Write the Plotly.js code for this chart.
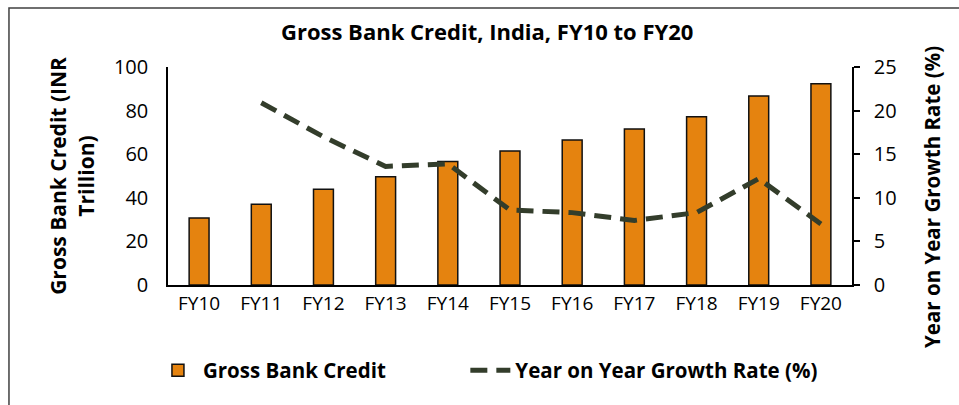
<!DOCTYPE html>
<html>
<head>
<meta charset="utf-8">
<script src="https://cdn.plot.ly/plotly-3.0.1.min.js"></script>
<style>html,body{margin:0;padding:0;background:#fff;}#chart{width:959px;height:405px;}</style>
</head>
<body>
<div id="chart"></div>
<script>
const categories = ["FY10","FY11","FY12","FY13","FY14","FY15","FY16","FY17","FY18","FY19","FY20"];
const grossBankCredit = [30.7, 37.0, 43.9, 49.7, 56.6, 61.5, 66.5, 71.6, 77.2, 86.7, 92.3];
const growthRate = [null, 20.9, 17.0, 13.6, 13.9, 8.6, 8.3, 7.4, 8.3, 12.2, 7.0];

const FONT = "Open Sans, Noto Sans, sans-serif";
const PAD = "\u00a0".repeat(14);

const traces = [
  {
    type: "bar",
    name: "Gross Bank Credit" + PAD,
    x: categories,
    y: grossBankCredit,
    width: 0.32,
    marker: {color: "#E5830F", line: {color: "#111111", width: 1.5}},
    yaxis: "y"
  },
  {
    type: "scatter",
    mode: "lines",
    name: "Year on Year Growth Rate (%)",
    x: categories,
    y: growthRate,
    line: {color: "#333D2B", width: 5, dash: "17px,9px"},
    yaxis: "y2",
    connectgaps: false
  }
];

const layout = {
  width: 959,
  height: 405,
  margin: {l: 168, r: 107, t: 67, b: 120},
  paper_bgcolor: "#ffffff",
  plot_bgcolor: "#ffffff",
  font: {family: FONT, color: "#000000", size: 19},
  title: {
    text: "<b>Gross Bank Credit, India, FY10 to FY20</b>",
    font: {family: FONT, size: 22, color: "#000000"},
    x: 0.508, xref: "container", xanchor: "center",
    y: 0.92, yref: "container", yanchor: "middle"
  },
  showlegend: true,
  legend: {
    orientation: "h",
    x: -0.022, xanchor: "left",
    y: -0.3, yanchor: "top",
    font: {family: FONT, size: 20.5, color: "#000000", weight: "bold"},
    traceorder: "normal",
    itemwidth: 40,
    tracegroupgap: 0,
    bgcolor: "rgba(0,0,0,0)"
  },
  xaxis: {
    type: "category",
    showline: true,
    linecolor: "#000000",
    linewidth: 1.5,
    ticks: "",
    showgrid: false,
    zeroline: false,
    tickfont: {family: FONT, size: 19, color: "#000000"}
  },
  yaxis: {
    range: [0, 100],
    dtick: 20,
    showline: true,
    linecolor: "#000000",
    linewidth: 1.5,
    ticks: "",
    showgrid: false,
    zeroline: false,
    tickfont: {family: FONT, size: 20, color: "#000000"},
    ticklabelstandoff: 14,
    title: {
      text: "<b>Gross Bank Credit (INR<br>Trillion)</b>",
      font: {family: FONT, size: 21, color: "#000000"},
      standoff: 14
    }
  },
  yaxis2: {
    range: [0, 25],
    dtick: 5,
    overlaying: "y",
    side: "right",
    showline: true,
    linecolor: "#000000",
    linewidth: 1.5,
    ticks: "outside",
    ticklen: 6,
    tickwidth: 1.5,
    tickcolor: "#000000",
    showgrid: false,
    zeroline: false,
    tickfont: {family: FONT, size: 20, color: "#000000"},
    ticklabelstandoff: 10
  },
  annotations: [
    {
      text: "<b>Year on Year Growth Rate (%)</b>",
      xref: "paper", yref: "paper",
      x: 1.117, y: 0.404,
      xanchor: "center", yanchor: "middle",
      textangle: -90,
      showarrow: false,
      font: {family: FONT, size: 20.5, color: "#000000"}
    }
  ],
  shapes: [
    {
      type: "rect",
      xref: "paper", yref: "paper",
      x0: -0.2325, x1: 1.2, y0: -0.7, y1: 1.2706,
      line: {color: "#404040", width: 1.5},
      fillcolor: "rgba(0,0,0,0)",
      layer: "below"
    }
  ]
};

Plotly.newPlot("chart", traces, layout, {displayModeBar: false, responsive: false});
</script>
</body>
</html>
